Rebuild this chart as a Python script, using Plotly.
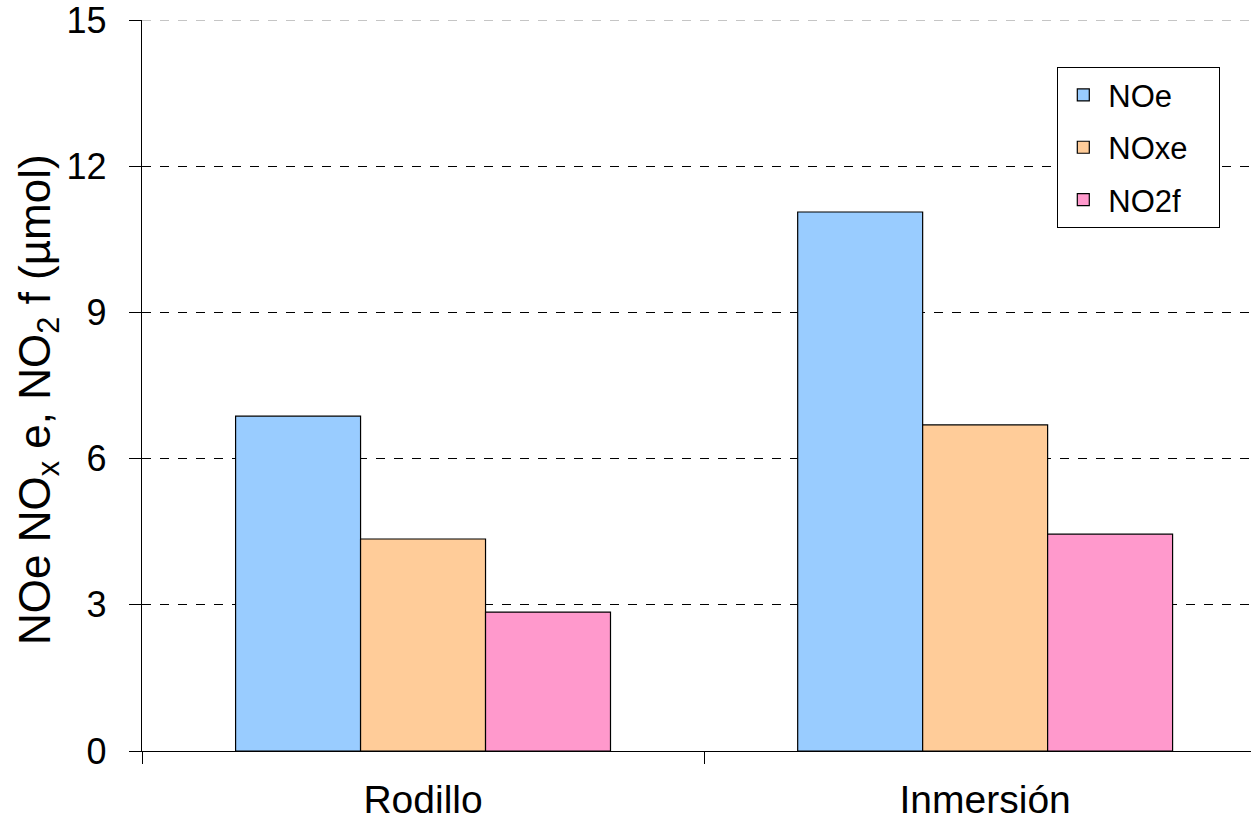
import plotly.graph_objects as go

categories = ["Rodillo", "Inmersión"]
series_names = ["NOe", "NOxe", "NO2f"]
noe = [6.87, 11.06]
noxe = [4.35, 6.69]
no2f = [2.85, 4.45]
colors = ["#99CCFF", "#FFCC99", "#FF99CC"]
y_ticks = [0, 3, 6, 9, 12, 15]
y_title = "NOe NO<sub>x</sub> e, NO<sub>2</sub> f (µmol)"

fig = go.Figure()
for i, (name, vals) in enumerate(zip(series_names, [noe, noxe, no2f])):
    fig.add_trace(go.Bar(
        x=categories, y=vals, name=name + "\u00a0\u00a0\u00a0", legendgroup=name,
        marker=dict(color=colors[i], line=dict(color="black", width=1.2)),
    ))

font = "Liberation Sans, Arial, sans-serif"
W, H = 1251, 822
L, T, B = 142, 20, 71
fig.update_layout(
    width=W, height=H,
    margin=dict(l=L, r=0, t=T, b=B, autoexpand=False),
    paper_bgcolor="white", plot_bgcolor="white",
    barmode="group", bargap=0.333, bargroupgap=0,
    font=dict(family=font, color="black", size=36),
    showlegend=True,
    legend=dict(
        x=(1220-L)/(W-L), xanchor="right", y=(H-B-67)/(H-B-T), yanchor="top",
        xref="paper", yref="paper",
        bordercolor="black", borderwidth=1.3, bgcolor="white",
        font=dict(size=31, family=font, color="black"),
        tracegroupgap=9, traceorder="grouped",
        itemwidth=40,
    ),
    xaxis=dict(
        type="category", range=[-0.5, 1.473],
        showline=True, linecolor="black", linewidth=1.3,
        ticks="outside", tickson="boundaries", ticklen=12, tickwidth=1.3, tickcolor="black",
        tickfont=dict(size=39, family=font), ticklabelstandoff=14,
        showgrid=False, automargin=False,
    ),
    yaxis=dict(
        range=[0, 15], tickvals=y_ticks,
        showline=True, linecolor="black", linewidth=1.3,
        ticks="outside", ticklen=12, tickwidth=1.3, tickcolor="black",
        tickfont=dict(size=36, family=font), ticklabelstandoff=15,
        ticklabeloverflow="allow",
        showgrid=True, gridcolor="black", gridwidth=1, griddash="dash",
        zeroline=False,
        automargin=False,
    ),
    shapes=[dict(
        type="line", xref="paper", yref="y", x0=0, x1=1,
        y0=y_ticks[-1], y1=y_ticks[-1],
        line=dict(color="#8c8c8c", width=1, dash="dash"),
    )],
    annotations=[dict(
        text=y_title, textangle=-90, showarrow=False,
        xref="paper", yref="paper",
        x=(38-L)/(W-L), y=(H-B-400)/(H-B-T),
        xanchor="center", yanchor="middle",
        font=dict(size=44, family=font, color="black"),
    )],
)

fig.write_html("out.html", config={"displayModeBar": False},
               post_script="document.body.style.margin='0';document.body.style.overflow='hidden';")
